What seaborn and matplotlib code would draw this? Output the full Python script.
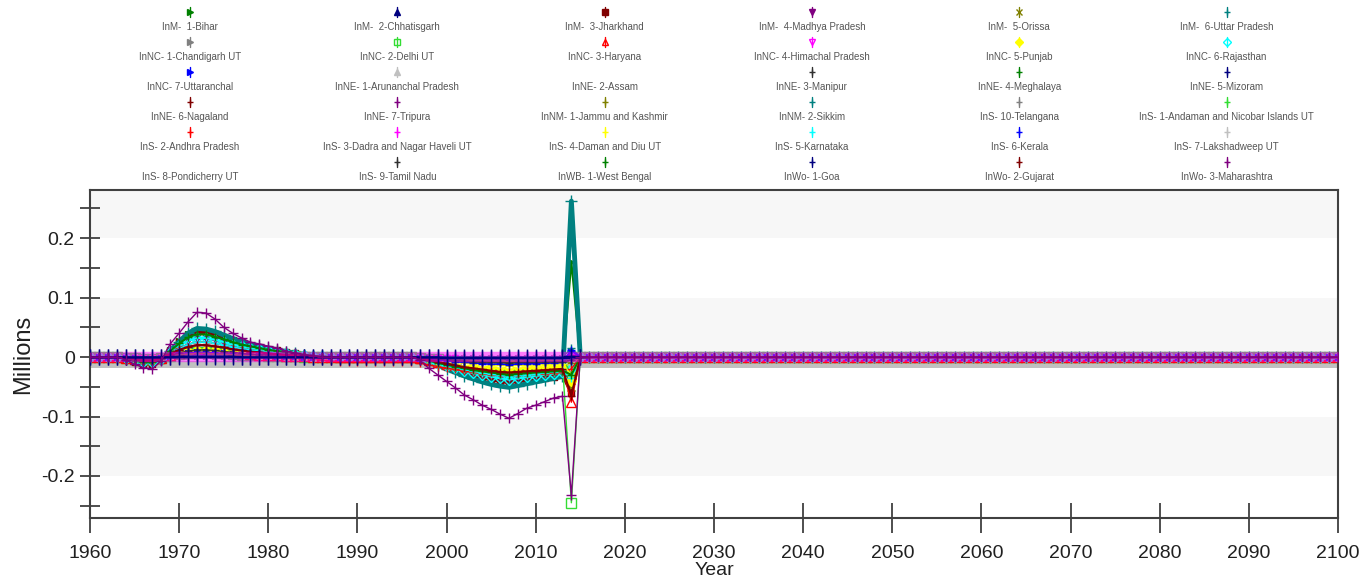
import matplotlib
matplotlib.use("Agg")
import matplotlib.pyplot as plt
import seaborn as sns
import pandas as pd

# Years on the x axis: 1960 to 2100, one point per year
years = list(range(1960, 2101))
# most states sit flat on zero after 2015; a few stop at 2015
tail_zeros = [0.0] * 85
tail_none = [float("nan")] * 85
# grey band just under the zero line, read at about -0.011
tail_grey = [-0.011] * 85

# Values (Millions) for 1960..2015, 14 years per row
bihar = [0, 0, 0, 0, -0.003, -0.008, -0.011, -0.011, -0.004, 0.012, 0.027, 0.039, 0.045, 0.044,
         0.040, 0.035, 0.030, 0.025, 0.021, 0.018, 0.015, 0.012, 0.009, 0.007, 0.004, 0.002, 0.001, 0,
         0, 0, 0, 0, 0, 0, 0, 0, 0, -0.002, -0.006, -0.010, -0.014, -0.017,
         -0.020, -0.022, -0.024, -0.025, -0.026, -0.027, -0.025, -0.024, -0.022, -0.021, -0.020, -0.018, 0.160, 0]
chhatisgarh = [0, 0, 0, 0, -0.001, -0.003, -0.004, -0.004, -0.002, 0.004, 0.009, 0.013, 0.015, 0.015,
               0.014, 0.012, 0.010, 0.008, 0.007, 0.006, 0.005, 0.004, 0.003, 0.002, 0.001, 0.001, 0, 0,
               0, 0, 0, 0, 0, 0, 0, 0, 0, -0.001, -0.003, -0.005, -0.007, -0.008,
               -0.010, -0.011, -0.012, -0.013, -0.014, -0.015, -0.014, -0.013, -0.012, -0.011, -0.011, -0.010, 0.005, 0]
jharkhand = [0, 0, 0, 0, -0.003, -0.008, -0.012, -0.012, -0.005, 0.010, 0.025, 0.037, 0.042, 0.041,
             0.038, 0.033, 0.028, 0.023, 0.019, 0.016, 0.013, 0.011, 0.008, 0.006, 0.004, 0.002, 0.001, 0,
             0, 0, 0, 0, 0, 0, 0, 0, 0, -0.002, -0.007, -0.012, -0.017, -0.022,
             -0.027, -0.031, -0.035, -0.038, -0.041, -0.043, -0.041, -0.039, -0.037, -0.035, -0.033, -0.030, -0.060, 0]
madhya_pradesh = [0, 0, 0, 0, -0.002, -0.006, -0.009, -0.009, -0.004, 0.008, 0.019, 0.027, 0.031, 0.030,
                  0.028, 0.024, 0.020, 0.017, 0.014, 0.012, 0.010, 0.008, 0.006, 0.004, 0.003, 0.001, 0, 0,
                  0, 0, 0, 0, 0, 0, 0, 0, 0, -0.002, -0.006, -0.010, -0.014, -0.018,
                  -0.022, -0.025, -0.028, -0.031, -0.033, -0.035, -0.033, -0.031, -0.029, -0.027, -0.026, -0.024, -0.030, 0]
orissa = [0, 0, 0, 0, -0.002, -0.004, -0.006, -0.006, -0.002, 0.006, 0.013, 0.018, 0.020, 0.020,
          0.018, 0.016, 0.013, 0.011, 0.009, 0.008, 0.006, 0.005, 0.004, 0.003, 0.002, 0.001, 0, 0,
          0, 0, 0, 0, 0, 0, 0, 0, 0, -0.001, -0.004, -0.006, -0.008, -0.010,
          -0.012, -0.014, -0.015, -0.017, -0.018, -0.019, -0.018, -0.017, -0.016, -0.015, -0.014, -0.013, -0.050, 0]
uttar_pradesh = [0, 0, 0, 0, -0.003, -0.007, -0.010, -0.010, -0.004, 0.010, 0.026, 0.040, 0.048, 0.047,
                 0.043, 0.037, 0.031, 0.026, 0.021, 0.018, 0.015, 0.012, 0.009, 0.007, 0.004, 0.002, 0.001, 0,
                 0, 0, 0, 0, 0, 0, 0, 0, 0, -0.002, -0.008, -0.014, -0.020, -0.026,
                 -0.032, -0.037, -0.042, -0.046, -0.049, -0.051, -0.048, -0.045, -0.042, -0.039, -0.036, -0.032, 0.262, 0]
chandigarh = [0, 0, 0, 0, 0, 0, -0.001, -0.001, 0, 0, 0.001, 0.001, 0.002, 0.002,
              0.002, 0.001, 0.001, 0.001, 0.001, 0, 0, 0, 0, 0, 0, 0, 0, 0,
              0, 0, 0, 0, 0, 0, 0, 0, 0, 0, 0, -0.001, -0.001, -0.001,
              -0.001, -0.001, -0.002, -0.002, -0.002, -0.002, -0.002, -0.002, -0.001, -0.001, -0.001, -0.001, 0.003, 0]
delhi = [0, 0, 0, 0, -0.001, -0.002, -0.003, -0.003, -0.001, 0.002, 0.005, 0.007, 0.008, 0.008,
         0.007, 0.006, 0.005, 0.004, 0.004, 0.003, 0.002, 0.002, 0.001, 0.001, 0, 0, 0, 0,
         0, 0, 0, 0, 0, 0, 0, 0, 0, -0.001, -0.003, -0.004, -0.006, -0.007,
         -0.009, -0.010, -0.011, -0.012, -0.013, -0.014, -0.013, -0.012, -0.012, -0.011, -0.011, -0.010, -0.245, 0]
haryana = [0, 0, 0, 0, -0.001, -0.003, -0.004, -0.004, -0.001, 0.003, 0.007, 0.010, 0.012, 0.012,
           0.011, 0.009, 0.008, 0.006, 0.005, 0.004, 0.004, 0.003, 0.002, 0.002, 0.001, 0, 0, 0,
           0, 0, 0, 0, 0, 0, 0, 0, 0, -0.002, -0.005, -0.008, -0.011, -0.013,
           -0.016, -0.018, -0.020, -0.022, -0.024, -0.025, -0.024, -0.023, -0.022, -0.021, -0.020, -0.019, -0.076, 0]
himachal = [0, 0, 0, 0, 0, -0.001, -0.002, -0.002, -0.001, 0.001, 0.002, 0.003, 0.004, 0.004,
            0.003, 0.003, 0.002, 0.002, 0.002, 0.001, 0.001, 0.001, 0.001, 0, 0, 0, 0, 0,
            0, 0, 0, 0, 0, 0, 0, 0, 0, 0, -0.001, -0.001, -0.002, -0.002,
            -0.003, -0.003, -0.003, -0.004, -0.004, -0.004, -0.004, -0.003, -0.003, -0.003, -0.003, -0.003, 0, 0]
punjab = [0, 0, 0, 0, -0.001, -0.003, -0.004, -0.004, -0.001, 0.003, 0.007, 0.010, 0.012, 0.012,
          0.011, 0.009, 0.008, 0.006, 0.005, 0.004, 0.004, 0.003, 0.002, 0.002, 0.001, 0, 0, 0,
          0, 0, 0, 0, 0, 0, 0, 0, 0, -0.001, -0.004, -0.006, -0.008, -0.010,
          -0.012, -0.013, -0.015, -0.016, -0.017, -0.018, -0.017, -0.017, -0.016, -0.015, -0.015, -0.014, -0.040, 0]
rajasthan = [0, 0, 0, 0, -0.002, -0.005, -0.008, -0.008, -0.003, 0.008, 0.018, 0.027, 0.032, 0.032,
             0.029, 0.025, 0.021, 0.018, 0.015, 0.013, 0.011, 0.009, 0.007, 0.005, 0.003, 0.002, 0.001, 0,
             0, 0, 0, 0, 0, 0, 0, 0, 0, -0.002, -0.007, -0.011, -0.015, -0.019,
             -0.023, -0.027, -0.030, -0.033, -0.036, -0.038, -0.036, -0.034, -0.032, -0.030, -0.028, -0.026, -0.020, 0]
uttaranchal = [0, 0, 0, 0, -0.001, -0.002, -0.003, -0.003, -0.001, 0.002, 0.005, 0.007, 0.008, 0.008,
               0.007, 0.006, 0.005, 0.004, 0.004, 0.003, 0.002, 0.002, 0.001, 0.001, 0, 0, 0, 0,
               0, 0, 0, 0, 0, 0, 0, 0, 0, -0.001, -0.002, -0.003, -0.004, -0.005,
               -0.006, -0.006, -0.007, -0.007, -0.008, -0.008, -0.008, -0.007, -0.007, -0.007, -0.006, -0.006, 0.010, 0]
arunachal = [-0.011, -0.011, -0.011, -0.011, -0.011, -0.011, -0.011, -0.011, -0.011, -0.011, -0.011, -0.011, -0.011, -0.011,
             -0.011, -0.011, -0.011, -0.011, -0.011, -0.011, -0.011, -0.011, -0.011, -0.011, -0.011, -0.011, -0.011, -0.011,
             -0.011, -0.011, -0.011, -0.011, -0.011, -0.011, -0.011, -0.011, -0.011, -0.011, -0.011, -0.011, -0.011, -0.011,
             -0.011, -0.011, -0.011, -0.011, -0.011, -0.011, -0.011, -0.011, -0.011, -0.011, -0.011, -0.011, -0.011, -0.011]
assam = [0, 0, 0, 0, -0.002, -0.004, -0.006, -0.006, -0.002, 0.006, 0.013, 0.019, 0.022, 0.022,
         0.020, 0.017, 0.015, 0.012, 0.010, 0.009, 0.007, 0.006, 0.005, 0.004, 0.002, 0.001, 0, 0,
         0, 0, 0, 0, 0, 0, 0, 0, 0, -0.001, -0.003, -0.005, -0.007, -0.009,
         -0.011, -0.012, -0.013, -0.014, -0.015, -0.016, -0.015, -0.014, -0.014, -0.013, -0.012, -0.012, -0.010, 0]
manipur = [0, 0, 0, 0, 0, 0, -0.001, -0.001, 0, 0, 0.001, 0.002, 0.002, 0.002,
           0.002, 0.002, 0.001, 0.001, 0.001, 0.001, 0, 0, 0, 0, 0, 0, 0, 0,
           0, 0, 0, 0, 0, 0, 0, 0, 0, 0, -0.001, -0.001, -0.001, -0.001,
           -0.002, -0.002, -0.002, -0.002, -0.002, -0.002, -0.002, -0.002, -0.002, -0.002, -0.002, -0.002, 0.002, 0]
meghalaya = [0, 0, 0, 0, 0, 0, -0.001, -0.001, 0, 0.001, 0.001, 0.002, 0.002, 0.002,
             0.002, 0.002, 0.001, 0.001, 0.001, 0.001, 0, 0, 0, 0, 0, 0, 0, 0,
             0, 0, 0, 0, 0, 0, 0, 0, 0, 0, -0.001, -0.001, -0.001, -0.002,
             -0.002, -0.002, -0.002, -0.002, -0.003, -0.003, -0.003, -0.002, -0.002, -0.002, -0.002, -0.002, 0.002, 0]
mizoram = [0, 0, 0, 0, 0, 0, 0, 0, 0, 0, 0.001, 0.001, 0.001, 0.001,
           0.001, 0.001, 0.001, 0, 0, 0, 0, 0, 0, 0, 0, 0, 0, 0,
           0, 0, 0, 0, 0, 0, 0, 0, 0, 0, 0, 0, -0.001, -0.001,
           -0.001, -0.001, -0.001, -0.001, -0.001, -0.001, -0.001, -0.001, -0.001, -0.001, -0.001, -0.001, 0.001, 0]
nagaland = [0, 0, 0, 0, 0, 0, -0.001, -0.001, 0, 0, 0.001, 0.001, 0.002, 0.002,
            0.001, 0.001, 0.001, 0.001, 0.001, 0, 0, 0, 0, 0, 0, 0, 0, 0,
            0, 0, 0, 0, 0, 0, 0, 0, 0, 0, 0, -0.001, -0.001, -0.001,
            -0.001, -0.002, -0.002, -0.002, -0.002, -0.002, -0.002, -0.002, -0.002, -0.002, -0.002, -0.001, 0.001, 0]
tripura = [0, 0, 0, 0, 0, -0.001, -0.001, -0.001, 0, 0.001, 0.002, 0.003, 0.003, 0.003,
           0.003, 0.002, 0.002, 0.002, 0.001, 0.001, 0.001, 0.001, 0, 0, 0, 0, 0, 0,
           0, 0, 0, 0, 0, 0, 0, 0, 0, 0, -0.001, -0.001, -0.002, -0.002,
           -0.002, -0.003, -0.003, -0.003, -0.003, -0.003, -0.003, -0.003, -0.003, -0.003, -0.002, -0.002, 0.003, 0]
jammu_kashmir = [0, 0, 0, 0, 0, -0.001, -0.002, -0.002, -0.001, 0.002, 0.004, 0.005, 0.006, 0.006,
                 0.005, 0.005, 0.004, 0.003, 0.003, 0.002, 0.002, 0.002, 0.001, 0.001, 0, 0, 0, 0,
                 0, 0, 0, 0, 0, 0, 0, 0, 0, -0.001, -0.002, -0.003, -0.004, -0.004,
                 -0.005, -0.006, -0.006, -0.007, -0.007, -0.008, -0.007, -0.007, -0.007, -0.006, -0.006, -0.006, -0.010, 0]
sikkim = [0, 0, 0, 0, 0, 0, 0, 0, 0, 0, 0, 0.001, 0.001, 0.001,
          0.001, 0, 0, 0, 0, 0, 0, 0, 0, 0, 0, 0, 0, 0,
          0, 0, 0, 0, 0, 0, 0, 0, 0, 0, 0, 0, 0, 0,
          -0.001, -0.001, -0.001, -0.001, -0.001, -0.001, -0.001, -0.001, -0.001, -0.001, -0.001, -0.001, 0.015, 0]
telangana = [0, 0, 0, 0, 0, 0, 0, 0, 0, 0, 0, 0, 0, 0,
             0, 0, 0, 0, 0, 0, 0, 0, 0, 0, 0, 0, 0, 0,
             0, 0, 0, 0, 0, 0, 0, 0, 0, 0, 0, 0, 0, 0,
             0, 0, 0, 0, 0, 0, 0, 0, 0, 0, 0, 0, -0.005, 0]
andaman = [0, 0, 0, 0, 0, 0, 0, 0, 0, 0, 0, 0.001, 0.001, 0.001,
           0.001, 0.001, 0, 0, 0, 0, 0, 0, 0, 0, 0, 0, 0, 0,
           0, 0, 0, 0, 0, 0, 0, 0, 0, 0, 0, 0, 0, -0.001,
           -0.001, -0.001, -0.001, -0.001, -0.001, -0.001, -0.001, -0.001, -0.001, -0.001, -0.001, -0.001, -0.030, 0]
andhra_pradesh = [0, 0, 0, 0, -0.002, -0.005, -0.007, -0.007, -0.002, 0.007, 0.015, 0.021, 0.025, 0.025,
                  0.023, 0.020, 0.017, 0.014, 0.012, 0.010, 0.008, 0.006, 0.004, 0.002, 0.001, -0.002, -0.005, -0.007,
                  -0.008, -0.008, -0.008, -0.008, -0.008, -0.008, -0.008, -0.008, -0.008, -0.010, -0.013, -0.016, -0.019, -0.021,
                  -0.024, -0.026, -0.028, -0.030, -0.031, -0.032, -0.031, -0.030, -0.029, -0.028, -0.027, -0.026, -0.020, 0]
dadra = [0, 0, 0, 0, 0, 0, 0, 0, 0, 0, 0, 0, 0, 0,
         0, 0, 0, 0, 0, 0, 0, 0, 0, 0, 0, 0, 0, 0,
         0, 0, 0, 0, 0, 0, 0, 0, 0, 0, 0, 0, 0, 0,
         0, 0, 0, 0, 0, 0, 0, 0, 0, 0, 0, 0, 0, 0]
daman = [0, 0, 0, 0, 0, 0, 0, 0, 0, 0, 0, 0, 0, 0,
         0, 0, 0, 0, 0, 0, 0, 0, 0, 0, 0, 0, 0, 0,
         0, 0, 0, 0, 0, 0, 0, 0, 0, 0, -0.002, -0.004, -0.006, -0.008,
         -0.010, -0.011, -0.012, -0.013, -0.014, -0.015, -0.014, -0.014, -0.013, -0.013, -0.012, -0.012, -0.030, 0]
karnataka = [0, 0, 0, 0, -0.002, -0.004, -0.006, -0.006, -0.002, 0.006, 0.014, 0.021, 0.025, 0.025,
             0.023, 0.020, 0.017, 0.014, 0.012, 0.010, 0.008, 0.007, 0.005, 0.004, 0.002, 0.001, 0, 0,
             0, 0, 0, 0, 0, 0, 0, 0, 0, -0.002, -0.006, -0.010, -0.013, -0.017,
             -0.021, -0.024, -0.027, -0.029, -0.031, -0.033, -0.031, -0.030, -0.028, -0.027, -0.025, -0.024, -0.035, 0]
kerala = [0, 0, 0, 0, -0.001, -0.003, -0.005, -0.005, -0.002, 0.005, 0.012, 0.017, 0.020, 0.020,
          0.018, 0.016, 0.013, 0.011, 0.009, 0.008, 0.006, 0.005, 0.004, 0.003, 0.002, 0.001, 0, 0,
          0, 0, 0, 0, 0, 0, 0, 0, 0, -0.001, -0.003, -0.005, -0.006, -0.008,
          -0.009, -0.010, -0.011, -0.012, -0.012, -0.013, -0.012, -0.011, -0.011, -0.010, -0.010, -0.009, 0.012, 0]
lakshadweep = [0, 0, 0, 0, 0, 0, 0, 0, 0, 0, 0, 0, 0, 0,
               0, 0, 0, 0, 0, 0, 0, 0, 0, 0, 0, 0, 0, 0,
               0, 0, 0, 0, 0, 0, 0, 0, 0, 0, 0, 0, 0, 0,
               0, 0, 0, 0, 0, 0, 0, 0, 0, 0, 0, 0, 0, 0]
pondicherry = [0, 0, 0, 0, 0, 0, 0, 0, 0, 0, 0, 0.001, 0.001, 0.001,
               0.001, 0.001, 0, 0, 0, 0, 0, 0, 0, 0, 0, 0, 0, 0,
               0, 0, 0, 0, 0, 0, 0, 0, 0, 0, 0, 0, -0.001, -0.001,
               -0.001, -0.001, -0.001, -0.001, -0.001, -0.001, -0.001, -0.001, -0.001, -0.001, -0.001, -0.001, 0, 0]
tamil_nadu = [0, 0, 0, 0, -0.001, -0.002, -0.003, -0.003, -0.001, 0.003, 0.007, 0.010, 0.012, 0.012,
              0.011, 0.009, 0.008, 0.006, 0.005, 0.004, 0.004, 0.003, 0.002, 0.002, 0.001, 0, 0, 0,
              0, 0, 0, 0, 0, 0, 0, 0, 0, -0.001, -0.002, -0.003, -0.005, -0.006,
              -0.007, -0.008, -0.008, -0.009, -0.009, -0.010, -0.009, -0.009, -0.009, -0.008, -0.008, -0.008, -0.005, 0]
west_bengal = [0, 0, 0, 0, -0.002, -0.006, -0.009, -0.009, -0.003, 0.010, 0.023, 0.033, 0.038, 0.038,
               0.034, 0.030, 0.025, 0.021, 0.018, 0.015, 0.012, 0.010, 0.008, 0.006, 0.004, 0.002, 0.001, 0,
               0, 0, 0, 0, 0, 0, 0, 0, 0, -0.002, -0.006, -0.010, -0.013, -0.016,
               -0.019, -0.022, -0.024, -0.026, -0.028, -0.030, -0.028, -0.027, -0.026, -0.025, -0.024, -0.023, -0.030, 0]
goa = [0, 0, 0, 0, 0, 0, 0, 0, 0, 0, 0, 0, 0, 0,
       0, 0, 0, 0, 0, 0, 0, 0, 0, 0, 0, 0, 0, 0,
       0, 0, 0, 0, 0, 0, 0, 0, 0, 0, 0, 0, 0, 0,
       0, 0, 0, 0, 0, 0, 0, 0, 0, 0, 0, 0, 0, 0]
gujarat = [0, 0, 0, 0, -0.001, -0.004, -0.006, -0.006, -0.002, 0.005, 0.012, 0.017, 0.020, 0.020,
           0.018, 0.016, 0.013, 0.011, 0.009, 0.008, 0.006, 0.005, 0.004, 0.003, 0.002, 0.001, 0, 0,
           0, 0, 0, 0, 0, 0, 0, 0, 0, -0.002, -0.005, -0.008, -0.011, -0.014,
           -0.017, -0.019, -0.021, -0.023, -0.025, -0.026, -0.025, -0.024, -0.023, -0.022, -0.021, -0.020, -0.065, 0]
maharashtra = [0, 0, 0, 0, -0.005, -0.012, -0.018, -0.020, -0.006, 0.022, 0.040, 0.059, 0.075, 0.074,
               0.064, 0.050, 0.040, 0.032, 0.025, 0.022, 0.018, 0.015, 0.010, 0.007, 0.004, 0.002, 0, 0,
               0, 0, 0, 0, 0, 0, 0, 0, 0, -0.005, -0.019, -0.030, -0.041, -0.052,
               -0.064, -0.072, -0.081, -0.088, -0.096, -0.103, -0.095, -0.086, -0.081, -0.075, -0.069, -0.066, -0.232, 0]

labels = ["InM-  1-Bihar", "InM-  2-Chhatisgarh", "InM-  3-Jharkhand", "InM-  4-Madhya Pradesh",
          "InM-  5-Orissa", "InM-  6-Uttar Pradesh",
          "InNC- 1-Chandigarh UT", "InNC- 2-Delhi UT", "InNC- 3-Haryana", "InNC- 4-Himachal Pradesh",
          "InNC- 5-Punjab", "InNC- 6-Rajasthan",
          "InNC- 7-Uttaranchal", "InNE- 1-Arunanchal Pradesh", "InNE- 2-Assam", "InNE- 3-Manipur",
          "InNE- 4-Meghalaya", "InNE- 5-Mizoram",
          "InNE- 6-Nagaland", "InNE- 7-Tripura", "InNM- 1-Jammu and Kashmir", "InNM- 2-Sikkim",
          "InS- 10-Telangana", "InS- 1-Andaman and Nicobar Islands UT",
          "InS- 2-Andhra Pradesh", "InS- 3-Dadra and Nagar Haveli UT", "InS- 4-Daman and Diu UT",
          "InS- 5-Karnataka", "InS- 6-Kerala", "InS- 7-Lakshadweep UT",
          "InS- 8-Pondicherry UT", "InS- 9-Tamil Nadu", "InWB- 1-West Bengal", "InWo- 1-Goa",
          "InWo- 2-Gujarat", "InWo- 3-Maharashtra"]
series = [bihar, chhatisgarh, jharkhand, madhya_pradesh, orissa, uttar_pradesh,
          chandigarh, delhi, haryana, himachal, punjab, rajasthan,
          uttaranchal, arunachal, assam, manipur, meghalaya, mizoram,
          nagaland, tripura, jammu_kashmir, sikkim, telangana, andaman,
          andhra_pradesh, dadra, daman, karnataka, kerala, lakshadweep,
          pondicherry, tamil_nadu, west_bengal, goa, gujarat, maharashtra]
# which tail each series gets after 2015
tails = [tail_zeros] * 36
tails[13] = tail_grey
tails[17] = tail_none
tails[33] = tail_none

# colour cycle of the original tool (16 colours, repeating)
cycle = ["#008000", "#000080", "#800000", "#800080", "#808000", "#008080", "#808080", "#33dd33",
         "#ff0000", "#ff00ff", "#ffff00", "#00ffff", "#0000ff", "#c0c0c0", "#ffffff", "#303030"]
colors = [cycle[i % 16] for i in range(36)]
markers = [">", "^", "s", "v", "x", "+", ">", "s", "^", "v", "D", "D", ">", "^", "+", "+"] + ["+"] * 20
filled = [True, True, True, True, True, True, True, False, False, False, True, False,
          True, True, True, True] + [True] * 20
widths = [1.5, 1, 2.5, 1, 1, 3.5, 1, 1, 1, 1, 1, 1.5, 1, 5, 1, 1, 1, 1,
          1, 1, 1, 1, 1, 1, 1, 7.5, 1, 1, 1, 1, 1, 1, 1.5, 1, 1.5, 1]
msizes = [4, 4, 4, 4, 6, 9, 4, 7, 7, 5, 5, 5, 4, 0, 5, 6] + [6] * 20
msizes[17] = 11
msizes[33] = 11
msizes[25] = 0
msizes[35] = 7
zorders = [2 + i * 0.01 for i in range(36)]
zorders[13] = 1.5
zorders[25] = 3.0
zorders[17] = 3.05
zorders[33] = 3.1
zorders[35] = 3.2

sns.set_style("white")
plt.rcParams['font.family'] = ['Liberation Sans', 'DejaVu Sans']

fig = plt.figure(figsize=(13.72, 5.82), dpi=100)
ax = fig.add_axes([90 / 1372, 1 - 518 / 582, (1338 - 90) / 1372, (518 - 190) / 582])

# alternating light bands
for lo, hi in [(0.2, 0.3), (0.0, 0.1), (-0.2, -0.1)]:
    ax.axhspan(lo, hi, color="#f7f7f7", lw=0, zorder=0)

for i in range(36):
    vals = series[i] + tails[i]
    mfc = colors[i] if filled[i] else "none"
    alpha = 0.5 if i == 25 else 1.0
    sns.lineplot(x=years, y=vals, ax=ax, color=colors[i], lw=widths[i], marker=markers[i],
                 markersize=msizes[i], markerfacecolor=mfc, markeredgecolor=colors[i],
                 markeredgewidth=1, alpha=alpha, zorder=zorders[i])

ax.set_xlim(1960, 2100)
ax.set_ylim(-0.2706, 0.2807)
ax.set_xticks(range(1960, 2101, 10))
ax.set_yticks([-0.2, -0.1, 0, 0.1, 0.2])
ax.set_yticklabels(["-0.2", "-0.1", "0", "0.1", "0.2"])
ax.set_yticks([-0.25, -0.15, -0.05, 0.05, 0.15, 0.25], minor=True)
ax.tick_params(axis="x", bottom=True, direction="inout", length=21, width=1.2, color="#303030",
               labelsize=14, labelcolor="#202020", pad=9)
ax.tick_params(axis="y", which="both", left=True, direction="inout", length=14, width=1.2,
               color="#303030", labelsize=14, labelcolor="#202020", pad=4)
ax.set_xlabel("Year", fontsize=14, labelpad=0, color="#202020")
ax.set_ylabel("Millions", fontsize=17, labelpad=5, color="#202020")
for sp in ax.spines.values():
    sp.set_color("#404040")
    sp.set_linewidth(1.5)

# legend: 6 columns x 6 rows, symbol above its label
leg = fig.add_axes([0, 1 - 190 / 582, 1, 190 / 582])
leg.set_xlim(0, 1372)
leg.set_ylim(190, 0)
leg.axis("off")
for i in range(36):
    r, c = divmod(i, 6)
    cx = 190 + 207.3 * c
    cy = 12 + 30 * r
    if colors[i] != "#ffffff":
        leg.plot([cx, cx], [cy - 5, cy + 5], color=colors[i], lw=1)
        mfc = colors[i] if filled[i] else "none"
        leg.plot([cx], [cy], marker=markers[i], color=colors[i], markersize=4,
                 markerfacecolor=mfc, markeredgewidth=1)
    leg.text(cx, cy + 15, labels[i], ha="center", va="center", fontsize=7, color="#555555")

fig.savefig("out.png", dpi=100)
